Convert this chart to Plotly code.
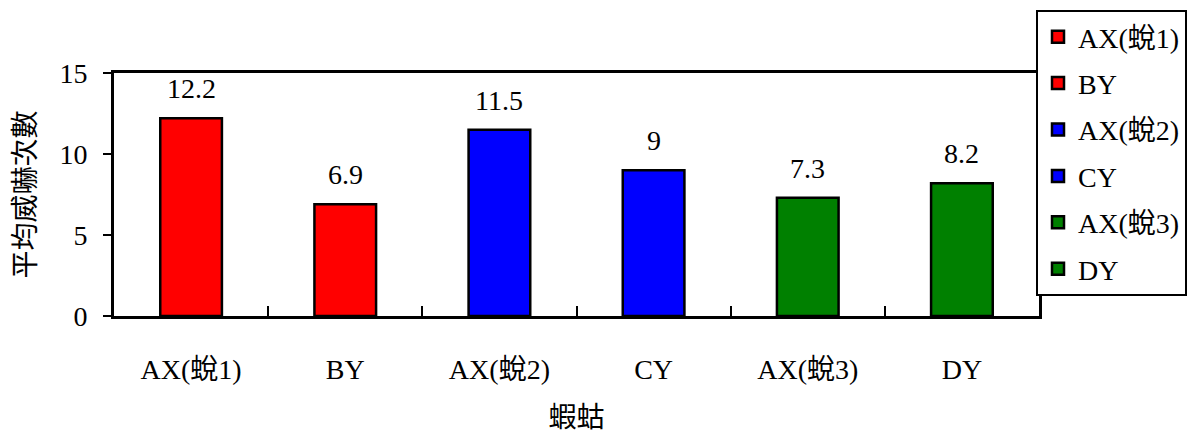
import plotly.graph_objects as go

# Category labels, mean counts and fill colours per bar
categories = ["AX(蛻1)", "BY", "AX(蛻2)", "CY", "AX(蛻3)", "DY"]
values = [12.2, 6.9, 11.5, 9, 7.3, 8.2]
colors = ["#FF0000", "#FF0000", "#0000FF", "#0000FF", "#008000", "#008000"]
y_ticks = [0, 5, 10, 15]

FONT = "'Liberation Serif', 'Noto Sans CJK TC', serif"

fig = go.Figure()
for i, (cat, val, col) in enumerate(zip(categories, values, colors)):
    fig.add_trace(go.Bar(
        x=[cat], y=[val], name=cat, legendgroup=f"g{i}",
        marker=dict(color=col, line=dict(color="black", width=2.5)),
        width=0.4,
    ))
    fig.add_annotation(
        x=cat, y=val, text=f"{val:g}", showarrow=False,
        yanchor="bottom", yshift=12,
        font=dict(family=FONT, size=28, color="black"),
    )

fig.update_layout(
    width=1196, height=437,
    barmode="overlay",
    plot_bgcolor="white", paper_bgcolor="white",
    margin=dict(l=114, r=157, t=73, b=121, autoexpand=False),
    font=dict(family=FONT, size=28, color="black"),
    showlegend=True,
    legend=dict(
        xref="container", yref="container",
        x=1036 / 1196, y=1 - 10 / 437, xanchor="left", yanchor="top",
        bgcolor="white", bordercolor="black", borderwidth=2,
        font=dict(family=FONT, size=28, color="black"),
        tracegroupgap=7, maxheight=320,
    ),
    xaxis=dict(
        categoryorder="array", categoryarray=categories,
        showline=True, linecolor="black", linewidth=3, mirror=True,
        ticks="inside", tickson="boundaries", ticklen=10, tickwidth=2,
        tickcolor="black",
        ticklabelstandoff=26,
        title=dict(text="蝦蛄", standoff=24,
                   font=dict(family=FONT, size=28)),
    ),
    yaxis=dict(
        range=[0, 15], tickvals=y_ticks,
        showline=True, linecolor="black", linewidth=3, mirror=True,
        ticks="outside", ticklen=8, tickwidth=2, tickcolor="black",
        showgrid=False, zeroline=False,
        ticklabelstandoff=10,
        title=dict(text="平均威嚇次數", standoff=16,
                   font=dict(family=FONT, size=28)),
    ),
)

fig.write_html("out.html")
